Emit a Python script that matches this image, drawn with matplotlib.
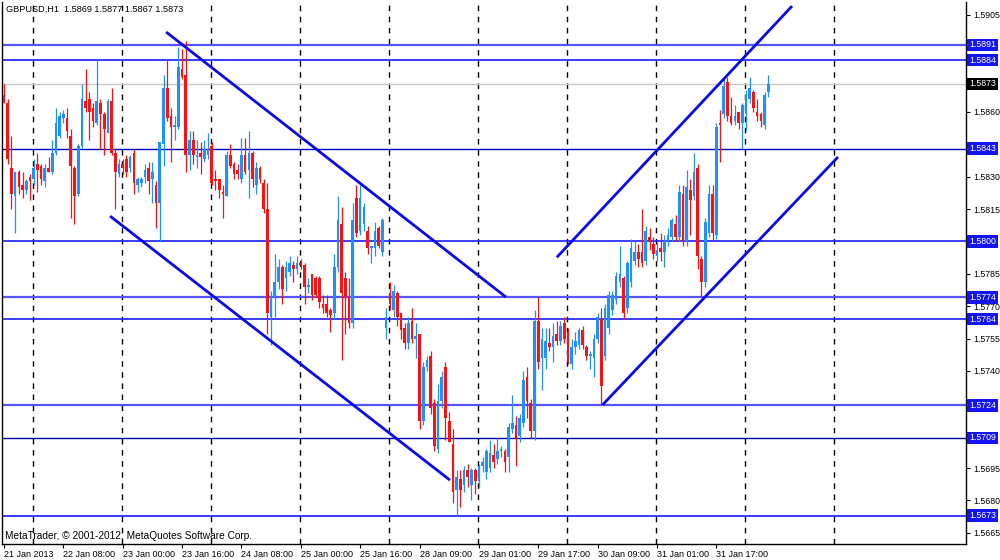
import matplotlib.pyplot as plt
import numpy as np

plt.rcParams["font.family"] = ["Liberation Sans", "DejaVu Sans"]

# GBPUSD H1 bars, quotes in 1/10000 above 1.0000 (5868 -> 1.5868)
opens = [
    5868, 5864, 5834, 5821, 5832, 5826, 5824, 5830, 5829, 5836, 5835, 5828, 5834, 5832, 5841, 5849,
    5857, 5857, 5849, 5834, 5822, 5844, 5865, 5866, 5862, 5855, 5864, 5859, 5850, 5865, 5841, 5831,
    5836, 5838, 5834, 5841, 5826, 5827, 5830, 5834, 5829, 5826, 5818, 5845, 5871, 5858, 5853, 5853,
    5880, 5877, 5840, 5847, 5839, 5841, 5838, 5840, 5844, 5829, 5829, 5823, 5821, 5840, 5836, 5833,
    5829, 5840, 5833, 5841, 5826, 5834, 5827, 5815, 5765, 5774, 5781, 5788, 5783, 5786, 5789, 5787,
    5790, 5789, 5779, 5785, 5783, 5783, 5771, 5771, 5768, 5767, 5788, 5808, 5783, 5774, 5762, 5820,
    5805, 5808, 5805, 5797, 5797, 5806, 5795, 5760, 5776, 5768, 5776, 5767, 5760, 5753, 5763, 5755,
    5757, 5717, 5742, 5747, 5725, 5704, 5726, 5742, 5717, 5706, 5685, 5690, 5687, 5694, 5687, 5694,
    5689, 5696, 5693, 5695, 5701, 5699, 5703, 5703, 5700, 5713, 5715, 5710, 5716, 5737, 5725, 5712,
    5763, 5746, 5746, 5753, 5751, 5757, 5754, 5762, 5758, 5743, 5751, 5752, 5759, 5751, 5747, 5746,
    5755, 5764, 5747, 5760, 5768, 5773, 5781, 5783, 5769, 5781, 5791, 5795, 5795, 5791, 5802, 5799,
    5793, 5797, 5795, 5800, 5802, 5808, 5802, 5822, 5800, 5824, 5821, 5834, 5792, 5781, 5804, 5822,
    5803, 5855, 5859, 5874, 5858, 5856, 5860, 5855, 5859, 5866, 5869, 5860, 5859, 5854, 5869,
]
highs = [
    5873, 5866, 5849, 5832, 5833, 5832, 5829, 5831, 5838, 5841, 5836, 5836, 5839, 5847, 5862, 5860,
    5861, 5862, 5852, 5835, 5845, 5873, 5880, 5869, 5864, 5884, 5866, 5860, 5866, 5871, 5843, 5838,
    5838, 5840, 5840, 5843, 5830, 5830, 5836, 5837, 5837, 5828, 5846, 5877, 5884, 5862, 5858, 5890,
    5889, 5893, 5851, 5851, 5847, 5846, 5847, 5850, 5846, 5833, 5829, 5826, 5842, 5845, 5837, 5836,
    5848, 5848, 5851, 5842, 5837, 5835, 5829, 5827, 5777, 5794, 5792, 5789, 5791, 5793, 5791, 5793,
    5792, 5790, 5783, 5785, 5784, 5784, 5775, 5775, 5769, 5794, 5821, 5816, 5786, 5783, 5818, 5826,
    5826, 5818, 5807, 5798, 5809, 5807, 5811, 5769, 5781, 5780, 5777, 5767, 5762, 5765, 5769, 5762,
    5757, 5744, 5747, 5749, 5727, 5734, 5740, 5744, 5721, 5713, 5694, 5694, 5696, 5697, 5695, 5695,
    5697, 5700, 5704, 5708, 5706, 5709, 5705, 5704, 5716, 5729, 5719, 5720, 5740, 5742, 5727, 5768,
    5774, 5760, 5760, 5760, 5762, 5763, 5763, 5765, 5760, 5755, 5758, 5760, 5761, 5752, 5749, 5757,
    5767, 5769, 5771, 5777, 5777, 5786, 5798, 5784, 5791, 5801, 5800, 5799, 5815, 5807, 5806, 5802,
    5800, 5804, 5803, 5806, 5811, 5812, 5826, 5826, 5833, 5829, 5841, 5836, 5793, 5811, 5826, 5826,
    5855, 5861, 5876, 5876, 5867, 5863, 5860, 5864, 5870, 5876, 5870, 5866, 5860, 5869, 5877,
]
lows = [
    5864, 5836, 5815, 5804, 5822, 5820, 5822, 5819, 5826, 5823, 5826, 5825, 5832, 5831, 5840, 5848,
    5855, 5848, 5811, 5808, 5821, 5843, 5860, 5847, 5853, 5854, 5843, 5840, 5850, 5840, 5815, 5830,
    5831, 5830, 5832, 5822, 5823, 5825, 5827, 5822, 5818, 5806, 5800, 5835, 5856, 5837, 5847, 5852,
    5875, 5832, 5833, 5836, 5834, 5831, 5837, 5838, 5826, 5824, 5820, 5811, 5821, 5834, 5829, 5829,
    5827, 5831, 5820, 5825, 5822, 5827, 5813, 5757, 5752, 5765, 5778, 5771, 5777, 5784, 5781, 5785,
    5787, 5771, 5776, 5773, 5774, 5769, 5767, 5765, 5758, 5764, 5786, 5745, 5757, 5760, 5760, 5802,
    5803, 5805, 5794, 5790, 5793, 5797, 5793, 5755, 5768, 5765, 5761, 5755, 5750, 5750, 5753, 5746,
    5713, 5715, 5740, 5720, 5703, 5702, 5723, 5708, 5707, 5679, 5673, 5677, 5684, 5686, 5680, 5683,
    5686, 5693, 5690, 5693, 5695, 5697, 5700, 5693, 5693, 5711, 5696, 5707, 5714, 5718, 5709, 5708,
    5741, 5731, 5741, 5749, 5744, 5752, 5752, 5753, 5743, 5741, 5748, 5750, 5750, 5745, 5741, 5737,
    5753, 5724, 5745, 5757, 5766, 5771, 5779, 5764, 5767, 5779, 5789, 5788, 5788, 5789, 5796, 5792,
    5791, 5791, 5788, 5798, 5800, 5800, 5800, 5798, 5798, 5803, 5819, 5787, 5774, 5779, 5802, 5800,
    5801, 5837, 5857, 5856, 5854, 5854, 5852, 5843, 5851, 5864, 5860, 5856, 5853, 5852, 5867,
]
closes = [
    5864, 5838, 5822, 5832, 5825, 5824, 5828, 5828, 5834, 5833, 5829, 5834, 5832, 5841, 5855, 5858,
    5859, 5851, 5835, 5821, 5844, 5866, 5862, 5860, 5856, 5865, 5859, 5852, 5865, 5841, 5832, 5836,
    5834, 5832, 5839, 5827, 5829, 5829, 5833, 5828, 5832, 5818, 5846, 5871, 5857, 5853, 5854, 5881,
    5876, 5840, 5847, 5840, 5840, 5839, 5843, 5843, 5827, 5828, 5824, 5822, 5840, 5835, 5831, 5831,
    5840, 5832, 5841, 5829, 5834, 5829, 5815, 5767, 5774, 5781, 5788, 5778, 5788, 5790, 5787, 5790,
    5789, 5779, 5780, 5775, 5775, 5772, 5769, 5767, 5766, 5788, 5810, 5776, 5774, 5762, 5810, 5804,
    5820, 5816, 5797, 5798, 5805, 5798, 5810, 5765, 5771, 5777, 5765, 5759, 5753, 5762, 5755, 5756,
    5717, 5742, 5745, 5723, 5705, 5726, 5737, 5718, 5707, 5684, 5691, 5685, 5694, 5691, 5694, 5689,
    5696, 5698, 5703, 5702, 5698, 5703, 5704, 5698, 5714, 5716, 5709, 5718, 5736, 5726, 5712, 5763,
    5744, 5755, 5754, 5751, 5756, 5754, 5761, 5755, 5744, 5751, 5754, 5759, 5752, 5747, 5748, 5755,
    5765, 5733, 5769, 5775, 5775, 5784, 5785, 5767, 5790, 5797, 5795, 5792, 5790, 5805, 5800, 5794,
    5796, 5795, 5800, 5803, 5810, 5802, 5823, 5800, 5825, 5819, 5832, 5793, 5781, 5809, 5822, 5804,
    5853, 5854, 5872, 5858, 5855, 5858, 5855, 5863, 5868, 5871, 5862, 5858, 5856, 5868, 5873,
]

# bar index where each trading day starts (separator lines)
day_starts = [8, 32, 56, 80, 104, 128, 152, 176, 200, 224]

xtick_bars = [0, 16, 32, 48, 64, 80, 96, 112, 128, 144, 160, 176, 192]
xtick_labels = ["21 Jan 2013", "22 Jan 08:00", "23 Jan 00:00", "23 Jan 16:00", "24 Jan 08:00",
                "25 Jan 00:00", "25 Jan 16:00", "28 Jan 09:00", "29 Jan 01:00", "29 Jan 17:00",
                "30 Jan 09:00", "31 Jan 01:00", "31 Jan 17:00"]

# horizontal support / resistance levels and how they were drawn
levels = [1.5891, 1.5884, 1.5843, 1.5800, 1.5774, 1.5764, 1.5724, 1.5709, 1.5673]
level_colors = ["#5555ff", "#2a2aff", "#0000c8", "#1a1aff", "#5555ff", "#1a1aff", "#5555ff", "#0000a8", "#3a3aff"]
level_widths = [1.6, 1.3, 1.0, 1.2, 1.6, 1.2, 1.6, 1.0, 1.4]
last_price = 1.5873

# trend channel lines: (bar, price) end points
down_upper = ([43.7, 135.3], [1.58970, 1.57742])
down_lower = ([28.6, 120.2], [1.58117, 1.56894])
up_upper = ([149.0, 212.4], [1.57926, 1.59090])
up_lower = ([161.3, 224.8], [1.57242, 1.58391])

ytick_vals = np.round(np.arange(1.5665, 1.59051, 0.0015), 4)

bull = "#1e90ff"
bear = "#ff1010"

o = np.array(opens) / 1e4 + 1
h = np.array(highs) / 1e4 + 1
l = np.array(lows) / 1e4 + 1
c = np.array(closes) / 1e4 + 1
idx = np.arange(len(o))
up = c >= o
cols = np.where(up, bull, bear)

fig = plt.figure(figsize=(10, 5.6), dpi=100)
ax = fig.add_axes([0.002, 16 / 560, 0.964, 542 / 560])
ax.set_xlim(-0.54, 259.3)
ax.set_ylim(1.56598, 1.59109)

for d in day_starts:
    ax.axvline(d - 0.2, color="black", lw=1, ls=(0, (4, 4)), zorder=1)

ax.axhline(last_price, color="#c8c8c8", lw=1, zorder=1)
for lv, col, lw in zip(levels, level_colors, level_widths):
    ax.axhline(lv, color=col, lw=lw, zorder=1.5)

for xs, ys in (down_upper, down_lower, up_upper, up_lower):
    ax.plot(xs, ys, color="#0a0ae6", lw=2, solid_capstyle="butt", zorder=4)

ax.vlines(idx, l, h, colors=cols, lw=0.9, zorder=2)
body_lo = np.minimum(o, c)
body_h = np.maximum(np.abs(c - o), 0.00002)
ax.bar(idx, body_h, bottom=body_lo, width=0.72, color=cols, linewidth=0, zorder=3)

# tick labels sitting under a price box are hidden, as in the terminal
boxed = levels + [last_price]
ylabels = ["" if min(abs(v - b) for b in boxed) < 0.00025 else f"{v:.4f}" for v in ytick_vals]

ax.yaxis.tick_right()
ax.set_yticks(ytick_vals)
ax.set_yticklabels(ylabels)
ax.tick_params(axis="y", length=3, width=0.8, pad=2, labelsize=6.3, colors="black")
ax.set_xticks(xtick_bars)
ax.set_xticklabels(xtick_labels, ha="left")
ax.tick_params(axis="x", length=3, width=0.8, pad=1.5, labelsize=6.5)
for s in ax.spines.values():
    s.set_linewidth(1)
ax.spines["top"].set_visible(False)

tr = ax.get_yaxis_transform()
for lv in levels:
    ax.text(1.003, lv, f"{lv:.4f}", transform=tr, color="white", fontsize=6.3, va="center",
            ha="left", clip_on=False, zorder=10,
            bbox=dict(boxstyle="square,pad=0.2", fc="#1414f0", ec="none"))
ax.text(1.003, last_price, f"{last_price:.4f}", transform=tr, color="white", fontsize=6.3,
        va="center", ha="left", clip_on=False, zorder=10,
        bbox=dict(boxstyle="square,pad=0.2", fc="black", ec="none"))

fig.text(6 / 1000, 1 - 9 / 560, "GBPUSD,H1  1.5869 1.5877 1.5867 1.5873", fontsize=6.6, va="center")
fig.text(5 / 1000, 1 - 536 / 560, "MetaTrader, \u00a9 2001-2012, MetaQuotes Software Corp.",
         fontsize=7.3, va="center")

fig.savefig("out.png", dpi=100, facecolor="white")
